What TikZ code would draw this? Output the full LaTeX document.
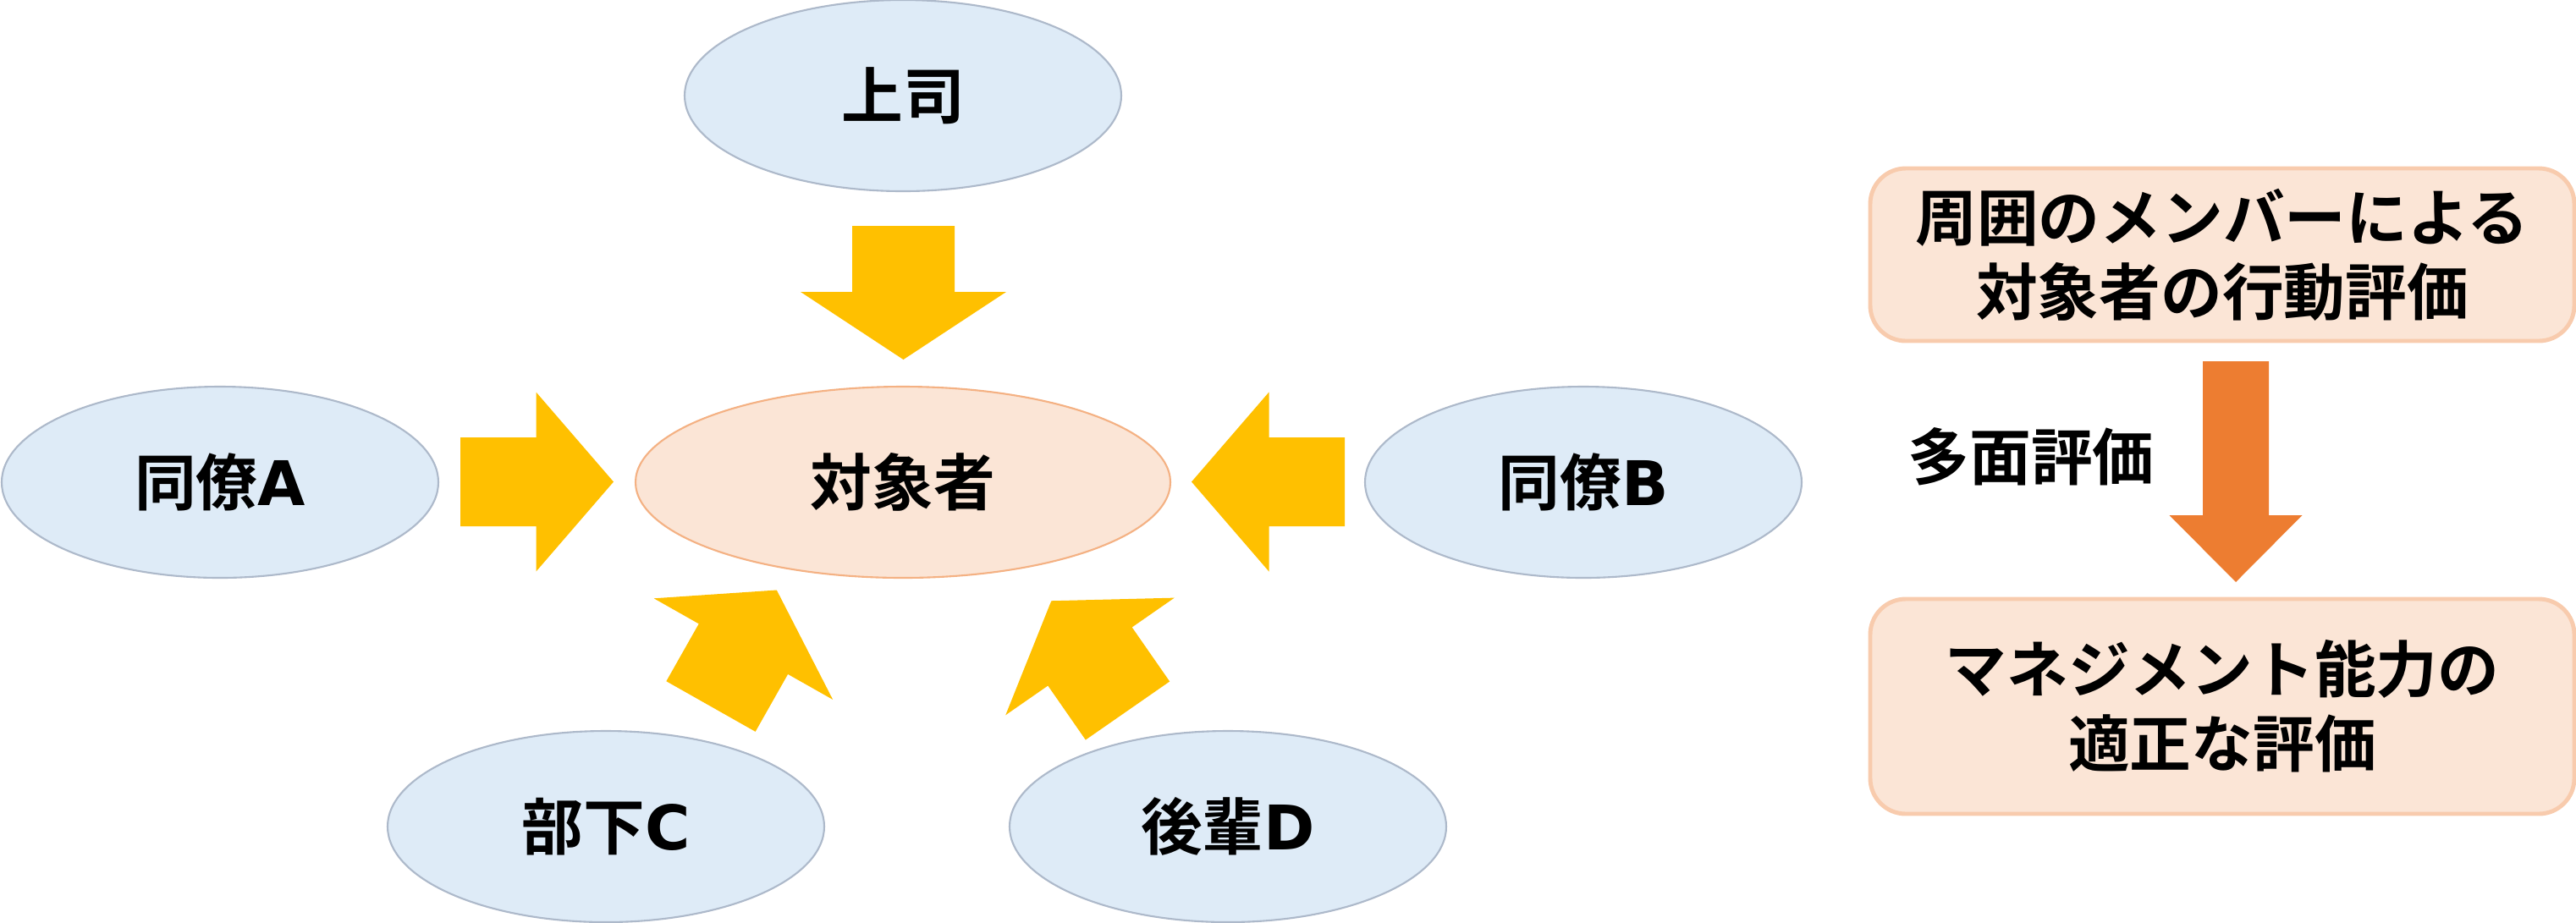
\documentclass[tikz,border=0pt]{standalone}
\usepackage{fontspec}
\setmainfont{Noto Sans CJK JP}[BoldFont={Noto Sans CJK JP Bold}]
\newfontfamily\latinfont{DejaVu Sans}
\usetikzlibrary{shapes.geometric,positioning}
\definecolor{ellfill}{HTML}{DEEBF7}
\definecolor{ellline}{HTML}{ADB9CA}
\definecolor{tgtfill}{HTML}{FBE5D6}
\definecolor{tgtline}{HTML}{F4B183}
\definecolor{boxline}{HTML}{F8CBAD}
\definecolor{arrowyel}{HTML}{FFC000}
\definecolor{arroworg}{HTML}{ED7D31}
\tikzset{
  person/.style={ellipse, draw=ellline, line width=0.6pt, fill=ellfill, minimum width=5.16cm, minimum height=2.26cm, inner sep=0pt, font=\bfseries\fontsize{20.7pt}{25pt}\selectfont},
  target/.style={person, draw=tgtline, fill=tgtfill, minimum width=6.32cm},
  result/.style={rectangle, rounded corners=0.42cm, draw=boxline, line width=1.4pt, fill=tgtfill, minimum width=8.32cm, inner sep=0pt, align=center, font=\bfseries\fontsize{20.7pt}{25pt}\selectfont},
  pics/blockarrow/.style args={#1/#2/#3/#4}{code={
    \fill (0,-#2) -- (#1,-#2) -- (#1,-#4) -- ++(#3,#4) -- (#1,#4) -- (#1,#2) -- (0,#2) -- cycle;
  }},
}

\begin{document}
\begin{tikzpicture}
\useasboundingbox (0,0) rectangle (30.44,-10.9);

% Evaluators around the target
\node[person] (boss) at (10.67,-1.13) {上司};
\node[target] (tgt) at (10.67,-5.70) {対象者};
\node[person] (peerA) at (2.60,-5.70) {同僚{\latinfont A}};
\node[person] (peerB) at (18.71,-5.70) {同僚{\latinfont B}};
\node[person] (subC) at (7.16,-9.77) {部下{\latinfont C}};
\node[person] (junD) at (14.51,-9.77) {後輩{\latinfont D}};

% Yellow arrows pointing at the target
\pic[fill=arrowyel, rotate=-90] (arrBoss) at (10.675,-2.67) {blockarrow={0.78/0.605/0.80/1.215}};
\pic[fill=arrowyel] (arrA) at (5.44,-5.695) {blockarrow={0.895/0.525/0.915/1.06}};
\pic[fill=arrowyel, rotate=180] (arrB) at (15.89,-5.695) {blockarrow={0.895/0.525/0.915/1.06}};
\pic[fill=arrowyel, rotate=60.5] (arrC) at (8.40,-8.35) {blockarrow={0.78/0.605/0.80/1.215}};
\pic[fill=arrowyel, rotate=124.8] (arrD) at (13.325,-8.40) {blockarrow={0.78/0.605/0.80/1.215}};

% Right-hand summary
\node[result, minimum height=2.04cm] (eval) at (26.26,-3.01) {周囲のメンバーによる\\対象者の行動評価};
\node[result, minimum height=2.54cm] (mgmt) at (26.26,-8.35) {マネジメント能力の\\適正な評価};
\pic[fill=arroworg, rotate=-90] (arrEval) at (26.42,-4.27) {blockarrow={1.82/0.39/0.79/0.785}};
\node[font=\bfseries\fontsize{20.7pt}{25pt}\selectfont] (multi) at (24.00,-5.40) {多面評価};

\end{tikzpicture}
\end{document}
